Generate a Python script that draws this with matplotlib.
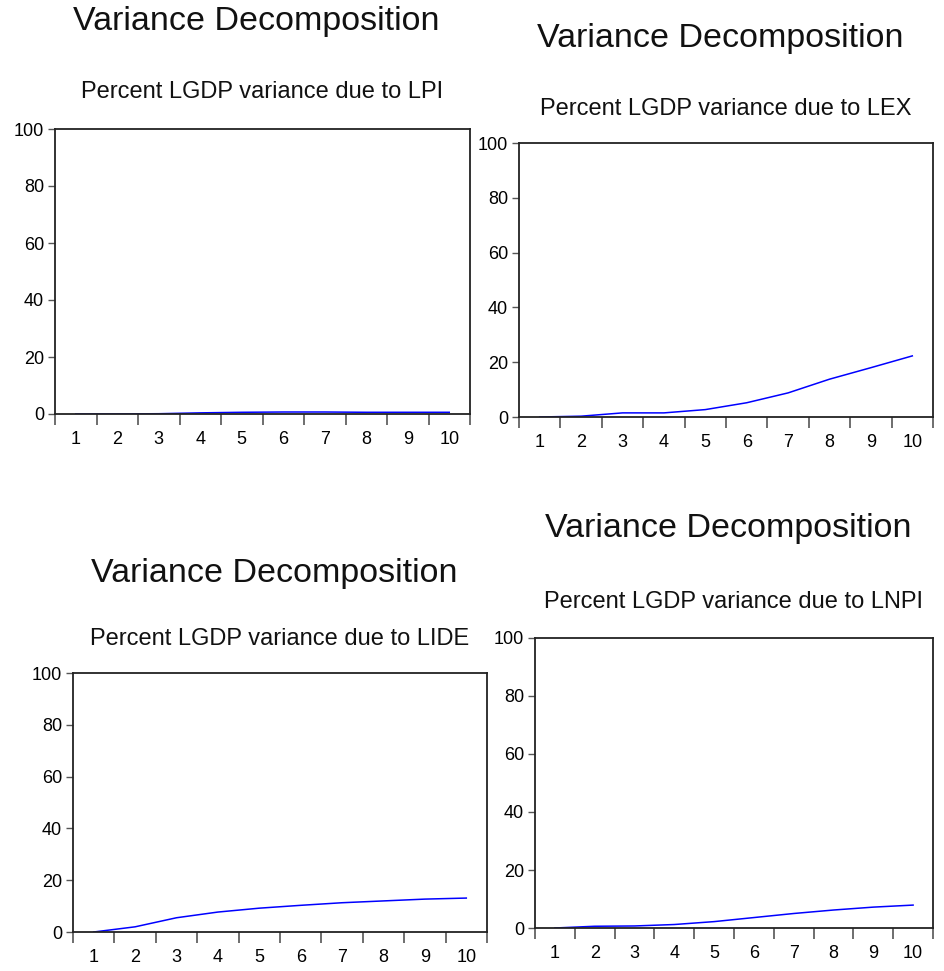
import matplotlib
matplotlib.use("Agg")
import matplotlib.pyplot as plt
import numpy as np

plt.rcParams['font.family'] = ['Liberation Sans', 'DejaVu Sans']

periods = [1, 2, 3, 4, 5, 6, 7, 8, 9, 10]
lpi = [0.0, 0.02, 0.1, 0.4, 0.6, 0.7, 0.7, 0.6, 0.6, 0.6]
lex = [0.0, 0.3, 1.5, 1.5, 2.7, 5.2, 8.8, 13.8, 18.0, 22.3]
lide = [0.0, 2.0, 5.5, 7.7, 9.2, 10.3, 11.3, 12.0, 12.7, 13.1]
lnpi = [0.0, 0.6, 0.7, 1.2, 2.2, 3.6, 5.0, 6.2, 7.2, 7.9]

main_title = "Variance Decomposition"
subtitles = ["Percent LGDP variance due to LPI",
             "Percent LGDP variance due to LEX",
             "Percent LGDP variance due to LIDE",
             "Percent LGDP variance due to LNPI"]
series = [lpi, lex, lide, lnpi]
yticks = [0, 20, 40, 60, 80, 100]

W, H = 944, 971
fig = plt.figure(figsize=(W / 100, H / 100), dpi=100)

# (left, right, top, bottom) in pixels, title baseline, subtitle baseline
panels = [
    ((55, 470, 129, 414), 30, 98),
    ((519, 933, 143, 417), 47, 115),
    ((73, 487, 673, 932), 582, 645),
    ((535, 933, 638, 928), 537, 608),
]

for (box, ty, sy), data, sub in zip(panels, series, subtitles):
    l, r, t, b = box
    ax = fig.add_axes([l / W, 1 - b / H, (r - l) / W, (b - t) / H])
    ax.plot(periods, data, color='#0000ff', lw=1.1)
    ax.set_xlim(0.5, 10.5)
    ax.set_ylim(0, 100)
    ax.set_yticks(yticks)
    ax.set_xticks(periods)
    ax.set_xticks(np.arange(0.5, 11, 1.0), minor=True)
    ax.tick_params(axis='x', which='major', length=0, pad=12, labelsize=13)
    ax.tick_params(axis='x', which='minor', length=8, width=1.2, color='#555555', direction='out')
    ax.tick_params(axis='y', which='major', length=5, width=1.0, color='#555555',
                   direction='out', labelsize=13, pad=3)
    for s in ax.spines.values():
        s.set_linewidth(1.3)
        s.set_color('#222222')
    cx = (l + r) / 2
    fig.text((cx - 6) / W, 1 - ty / H, main_title, ha='center', va='baseline', fontsize=24.5, color='#111111')
    fig.text(cx / W, 1 - sy / H, sub, ha='center', va='baseline', fontsize=17, color='#111111')

fig.savefig("out.png", dpi=100)
